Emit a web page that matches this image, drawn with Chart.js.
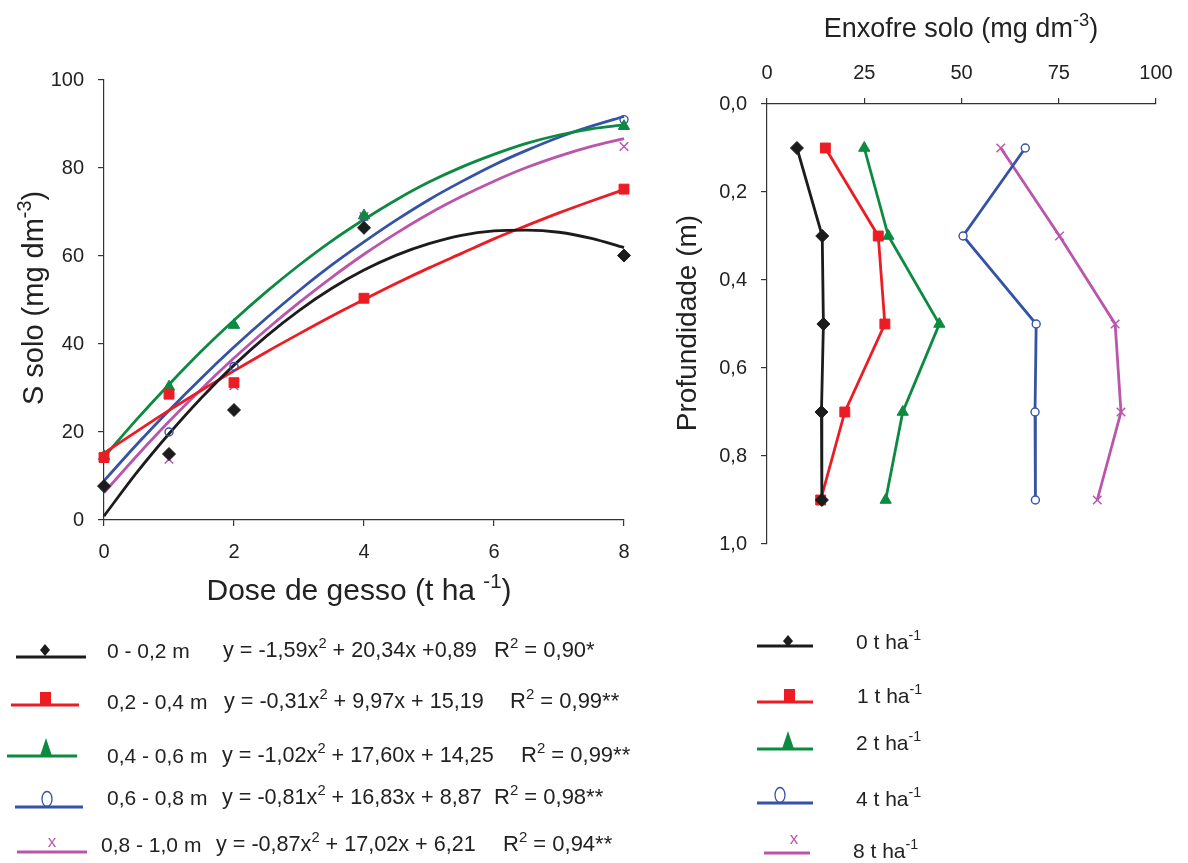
<!DOCTYPE html>
<html><head><meta charset="utf-8">
<script src="https://cdn.jsdelivr.net/npm/chart.js@4.4.0/dist/chart.umd.min.js"></script>
<style>
body{margin:0;background:#fff;}
#wrap{position:relative;width:1188px;height:863px;overflow:hidden;background:#fff;font-family:'Liberation Sans',Arial,sans-serif;color:#222;}
.abs{position:absolute;white-space:pre;line-height:1;}
sup{font-size:68%;vertical-align:0;position:relative;top:-0.6em;}
canvas{position:absolute;}
svg{position:absolute;left:0;top:0;overflow:visible;}
</style></head><body><div id="wrap">
<canvas id="c1" width="660" height="600" style="left:0;top:0;width:660px;height:600px"></canvas>
<canvas id="c2" width="528" height="600" style="left:660px;top:0;width:528px;height:600px"></canvas>
<svg id="lg" width="1188" height="863"></svg>
</div>
<script>
// ---------- DATA ----------
const doses = [0, 1, 2, 4, 8];                 // t ha-1
const depthMid = [0.1, 0.3, 0.5, 0.7, 0.9];     // m
const depthLabels = ['0 - 0,2 m', '0,2 - 0,4 m', '0,4 - 0,6 m', '0,6 - 0,8 m', '0,8 - 1,0 m'];
const doseLabels = ['0 t ha', '1 t ha', '2 t ha', '4 t ha', '8 t ha'];
// observed S (mg dm-3) by depth layer, per dose
const s_0_02  = [7.7, 15.0, 25.0, 66.4, 60.1];
const s_02_04 = [14.2, 28.6, 31.2, 50.4, 75.2];
const s_04_06 = [14.5, 30.3, 44.3, 69.2, 89.5];
const s_06_08 = [14.0, 20.0, 34.9, 68.9, 91.0];
const s_08_10 = [14.1, 13.8, 30.5, 69.0, 84.9];
// fitted curves
const curveX   = [0,0.5,1,1.5,2,2.5,3,3.5,4,4.5,5,5.5,6,6.5,7,7.5,8];
const fit_0_02  = [0.9,10.7,19.6,27.8,35.2,41.8,47.6,52.6,56.8,60.2,62.8,64.7,65.7,65.9,65.4,64.0,61.9];
const fit_02_04 = [15.2,20.1,24.9,29.5,33.9,38.2,42.3,46.3,50.1,53.8,57.3,60.6,63.9,66.9,69.8,72.5,75.1];
const fit_04_06 = [14.3,22.8,30.8,38.4,45.4,51.9,57.9,63.4,68.3,72.8,76.8,80.2,83.1,85.6,87.5,88.9,89.8];
const fit_06_08 = [8.9,17.1,24.9,32.3,39.3,45.9,52.1,57.9,63.2,68.2,72.8,76.9,80.7,84.0,87.0,89.5,91.7];
const fit_08_10 = [6.2,14.5,22.4,29.8,36.8,43.3,49.4,55.1,60.4,65.2,69.6,73.5,77.0,80.1,82.7,84.9,86.7];
const equations = ['y = -1,59x<sup>2</sup> + 20,34x +0,89', 'y = -0,31x<sup>2</sup> + 9,97x + 15,19',
  'y = -1,02x<sup>2</sup> + 17,60x + 14,25', 'y = -0,81x<sup>2</sup> + 16,83x + 8,87', 'y = -0,87x<sup>2</sup> + 17,02x + 6,21'];
const r2Labels = ['R<sup>2</sup> = 0,90*', 'R<sup>2</sup> = 0,99**', 'R<sup>2</sup> = 0,99**', 'R<sup>2</sup> = 0,98**', 'R<sup>2</sup> = 0,94**'];
const doseTicks = {0:'0', 2:'2', 4:'4', 6:'6', 8:'8'};
const sTicks = {0:'0', 20:'20', 40:'40', 60:'60', 80:'80', 100:'100'};
const enxTicks = {0:'0', 25:'25', 50:'50', 75:'75', 100:'100'};
const depthTicks = ['0,0', '0,2', '0,4', '0,6', '0,8', '1,0'];

// ---------- STYLE ----------
const layers = [s_0_02, s_02_04, s_04_06, s_06_08, s_08_10];
const fits = [fit_0_02, fit_02_04, fit_04_06, fit_06_08, fit_08_10];
const colors = ['#1c1c1c', '#ec1c24', '#0b8a40', '#3553a6', '#bb55ab'];
const styles = [
  {pointStyle:'rectRot', radius:6.5, fill:true, bw:1},
  {pointStyle:'rect', radius:7, fill:true, bw:1},
  {pointStyle:'triangle', radius:6.5, fill:true, bw:1},
  {pointStyle:'circle', radius:4, fill:false, bw:1.4},
  {pointStyle:'crossRot', radius:6, fill:false, bw:1.5}
];
const FONT = "'Liberation Sans', Arial, sans-serif";
const tickFont = {family: FONT, size: 20};
const axisCol = '#333';

function pts(xs, ys){ return xs.map((x,i)=>({x:x, y:ys[i]})); }

// ---------- LEFT CHART ----------
const leftSets = [];
layers.forEach((arr, i) => {
  leftSets.push({
    data: pts(doses, arr), showLine:false, order:0, clip:false,
    pointStyle: styles[i].pointStyle, pointRadius: styles[i].radius,
    pointBackgroundColor: styles[i].fill ? colors[i] : 'rgba(0,0,0,0)',
    pointBorderColor: colors[i], pointBorderWidth: styles[i].bw
  });
});
fits.forEach((arr, i) => {
  leftSets.push({
    data: pts(curveX, arr), showLine:true, order:1, clip:false,
    borderColor: colors[i], borderWidth: 2.8, pointRadius: 0,
    cubicInterpolationMode: 'monotone', fill:false
  });
});

function axisCommon(){
  return {
    grid: {drawOnChartArea:false, drawTicks:true, tickLength:6, color:axisCol, lineWidth:1.2},
    border: {display:true, color:axisCol, width:1.2}
  };
}

new Chart(document.getElementById('c1'), {
  type: 'scatter',
  data: {datasets: leftSets},
  options: {
    responsive:false, animation:false, devicePixelRatio:1,
    layout: {padding: {top:80, right:36, left:0, bottom:0}},
    plugins: {legend:{display:false}, tooltip:{enabled:false}},
    scales: {
      x: Object.assign(axisCommon(), {
        type:'linear', min:0, max:8,
        afterFit(s){ s.height = 80; },
        ticks: {stepSize:2, font:tickFont, color:'#222', padding:14,
          callback:(v)=>doseTicks[Math.round(v)]}
      }),
      y: Object.assign(axisCommon(), {
        type:'linear', min:0, max:100,
        afterFit(s){ s.width = 104; },
        ticks: {stepSize:20, font:tickFont, color:'#222', padding:14,
          callback:(v)=>sTicks[Math.round(v)]}
      })
    }
  }
});

// ---------- RIGHT CHART ----------
const rightSets = doses.map((d, j) => ({
  data: depthMid.map((dep, k) => ({x: layers[k][j], y: dep})),
  showLine:true, clip:false, borderColor: colors[j], borderWidth: 2.8,
  pointStyle: styles[j].pointStyle, pointRadius: styles[j].radius,
  pointBackgroundColor: styles[j].fill ? colors[j] : '#fff',
  pointBorderColor: colors[j], pointBorderWidth: styles[j].bw
}));

new Chart(document.getElementById('c2'), {
  type: 'scatter',
  data: {datasets: rightSets},
  options: {
    responsive:false, animation:false, devicePixelRatio:1,
    layout: {padding: {top:0, right:32, left:0, bottom:56}},
    plugins: {legend:{display:false}, tooltip:{enabled:false}},
    scales: {
      x: Object.assign(axisCommon(), {
        type:'linear', position:'top', min:0, max:100,
        afterFit(s){ s.height = 104; },
        ticks: {stepSize:25, font:tickFont, color:'#222', padding:13,
          callback:(v)=>enxTicks[Math.round(v)]}
      }),
      y: Object.assign(axisCommon(), {
        type:'linear', reverse:true, min:0, max:1,
        afterFit(s){ s.width = 107; },
        ticks: {stepSize:0.2, font:tickFont, color:'#222', padding:14,
          callback:(v)=>depthTicks[Math.round(v*5)]}
      })
    }
  }
});

// ---------- TEXT ----------
const wrap = document.getElementById('wrap');
function addText(html, x, y, size, opts){
  opts = opts || {};
  const d = document.createElement('div');
  d.className = 'abs';
  d.innerHTML = html;
  d.style.fontSize = size + 'px';
  d.style.left = x + 'px';
  d.style.top = y + 'px';
  let tf = opts.center ? 'translate(-50%,-50%)' : 'translate(0,-50%)';
  if (opts.rotate) tf += ' rotate(-90deg)';
  d.style.transform = tf;
  wrap.appendChild(d);
}
addText('S solo (mg dm<sup>-3</sup>)', 33, 298, 29, {center:true, rotate:true});
addText('Dose de gesso (t ha <sup>-1</sup>)', 359, 590, 30, {center:true});
addText('Enxofre solo (mg dm<sup>-3</sup>)', 961, 28, 27, {center:true});
addText('Profundidade (m)', 687, 323, 28, {center:true, rotate:true});

// ---------- LEGENDS ----------
const svg = document.getElementById('lg');
const NS = 'http://www.w3.org/2000/svg';
function el(tag, attrs){ const e = document.createElementNS(NS, tag); for (const k in attrs) e.setAttribute(k, attrs[k]); svg.appendChild(e); return e; }
function marker(i, x, y, lineY){
  const c = colors[i];
  if (i === 0) el('path', {d:`M${x} ${y-6} L${x+5} ${y} L${x} ${y+6} L${x-5} ${y} Z`, fill:c});
  if (i === 1) el('rect', {x:x-5, y:lineY-13, width:11, height:13, fill:c});
  if (i === 2) el('path', {d:`M${x} ${lineY-18} L${x+6} ${lineY} L${x-6} ${lineY} Z`, fill:c});
  if (i === 3) el('ellipse', {cx:x, cy:lineY-8, rx:5, ry:7.5, fill:'none', stroke:c, 'stroke-width':1.3});
  if (i === 4) { const t = el('text', {x:x, y:y+5, fill:c, 'font-size':17, 'font-family':'Liberation Sans, Arial', 'text-anchor':'middle'}); t.textContent = 'x'; }
}
const leftRows = [
  {ly:657, x1:16, x2:86, mx:45, my:650, tx:107, ty:650, ex:223, rx:494},
  {ly:705, x1:11, x2:79, mx:45, my:698, tx:107, ty:701, ex:224, rx:510},
  {ly:756, x1:7,  x2:77, mx:46, my:747, tx:107, ty:755, ex:222, rx:521},
  {ly:807, x1:15, x2:83, mx:47, my:800, tx:107, ty:797, ex:222, rx:494},
  {ly:852, x1:17, x2:87, mx:52, my:842, tx:101, ty:844, ex:216, rx:503}
];
leftRows.forEach((r, i) => {
  el('line', {x1:r.x1, y1:r.ly, x2:r.x2, y2:r.ly, stroke:colors[i], 'stroke-width':2.8});
  marker(i, r.mx, r.my, r.ly);
  addText(depthLabels[i], r.tx, r.ty, 21);
  addText(equations[i], r.ex, r.ty, 21.6);
  addText(r2Labels[i], r.rx, r.ty, 22);
});
const rightRows = [
  {ly:646, x1:757, x2:813, mx:788, my:641, tx:856, ty:641},
  {ly:702, x1:757, x2:813, mx:789, my:695, tx:857, ty:695},
  {ly:749, x1:757, x2:813, mx:788, my:740, tx:856, ty:742},
  {ly:803, x1:757, x2:813, mx:780, my:796, tx:856, ty:798},
  {ly:853, x1:764, x2:810, mx:794, my:839, tx:853, ty:850}
];
rightRows.forEach((r, i) => {
  el('line', {x1:r.x1, y1:r.ly, x2:r.x2, y2:r.ly, stroke:colors[i], 'stroke-width':2.8});
  marker(i, r.mx, r.my, r.ly);
  addText(doseLabels[i] + '<sup>-1</sup>', r.tx, r.ty, 21);
});
</script>
</body></html>
